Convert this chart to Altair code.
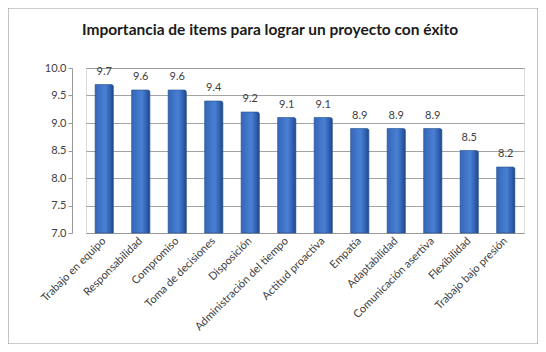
import altair as alt
import pandas as pd

categories = ["Trabajo en equipo", "Responsabilidad", "Compromiso", "Toma de decisiones",
              "Disposición", "Administración del tiempo", "Actitud proactiva", "Empatía",
              "Adaptabilidad", "Comunicación asertiva", "Flexibilidad", "Trabajo bajo presión"]
values = [9.7, 9.6, 9.6, 9.4, 9.2, 9.1, 9.1, 8.9, 8.9, 8.9, 8.5, 8.2]
y_ticks = [7.0, 7.5, 8.0, 8.5, 9.0, 9.5, 10.0]
title_text = "Importancia de items para lograr un proyecto con éxito"

df = pd.DataFrame({"item": categories, "valor": values})

FONT = "Lato"

x = alt.X("item:N", sort=categories, title=None,
          scale=alt.Scale(paddingInner=0.5, paddingOuter=0.25),
          axis=alt.Axis(labelAngle=-45, labelAlign="right", labelBaseline="middle",
                        labelFontSize=11, labelColor="#404040", labelFont=FONT,
                        domainColor="#999999", ticks=False, labelPadding=6))
y = alt.Y("valor:Q", title=None,
          scale=alt.Scale(domain=[7, 10], zero=False, nice=False),
          axis=alt.Axis(values=y_ticks, format=".1f", offset=14, tickCount=7,
                        labelOverlap=False,
                        labelFontSize=11, labelColor="#404040", labelFont=FONT,
                        gridColor="#8c8c8c", gridWidth=0.8,
                        domainColor="#999999", tickColor="#999999", tickSize=4))

grad = alt.LinearGradient(gradient="linear", x1=0, x2=1, y1=0, y2=0,
                          stops=[alt.GradientStop(color="#3466B8", offset=0),
                                 alt.GradientStop(color="#4A80D4", offset=0.55),
                                 alt.GradientStop(color="#3263B3", offset=0.8),
                                 alt.GradientStop(color="#1E4788", offset=1)])

frame = alt.Chart(pd.DataFrame({"a": [0]})).mark_rect(
    fillOpacity=0, stroke="#9a9a9a", strokeWidth=1.2
).encode(x=alt.value(-78), x2=alt.value(452), y=alt.value(-60), y2=alt.value(276))

bars = alt.Chart(df).mark_bar(color=grad, stroke="#24508f", strokeWidth=0.6,
                              cornerRadiusTopRight=2).encode(x=x, y=y, y2=alt.datum(7))

labels = alt.Chart(df).mark_text(baseline="bottom", dy=-8, fontSize=11,
                                 color="#404040", font=FONT).encode(
    x=x, y=y,
    text=alt.Text("valor:Q", format=".1f"))

title = alt.Chart(pd.DataFrame({"t": [title_text]})).mark_text(
    fontSize=15.5, fontWeight="bold", font=FONT, color="#1a1a1a", baseline="middle"
).encode(x=alt.value(184), y=alt.value(-38), text="t:N")

chart = alt.layer(frame, bars, labels, title).properties(
    width=438, height=165,
    autosize=alt.AutoSizeParams(type="none"),
    padding={"left": 78, "top": 60, "right": 14, "bottom": 111},
).configure_view(stroke=None).configure(background="white")

chart.save("out.html", embed_options={"renderer": "svg", "actions": False})
